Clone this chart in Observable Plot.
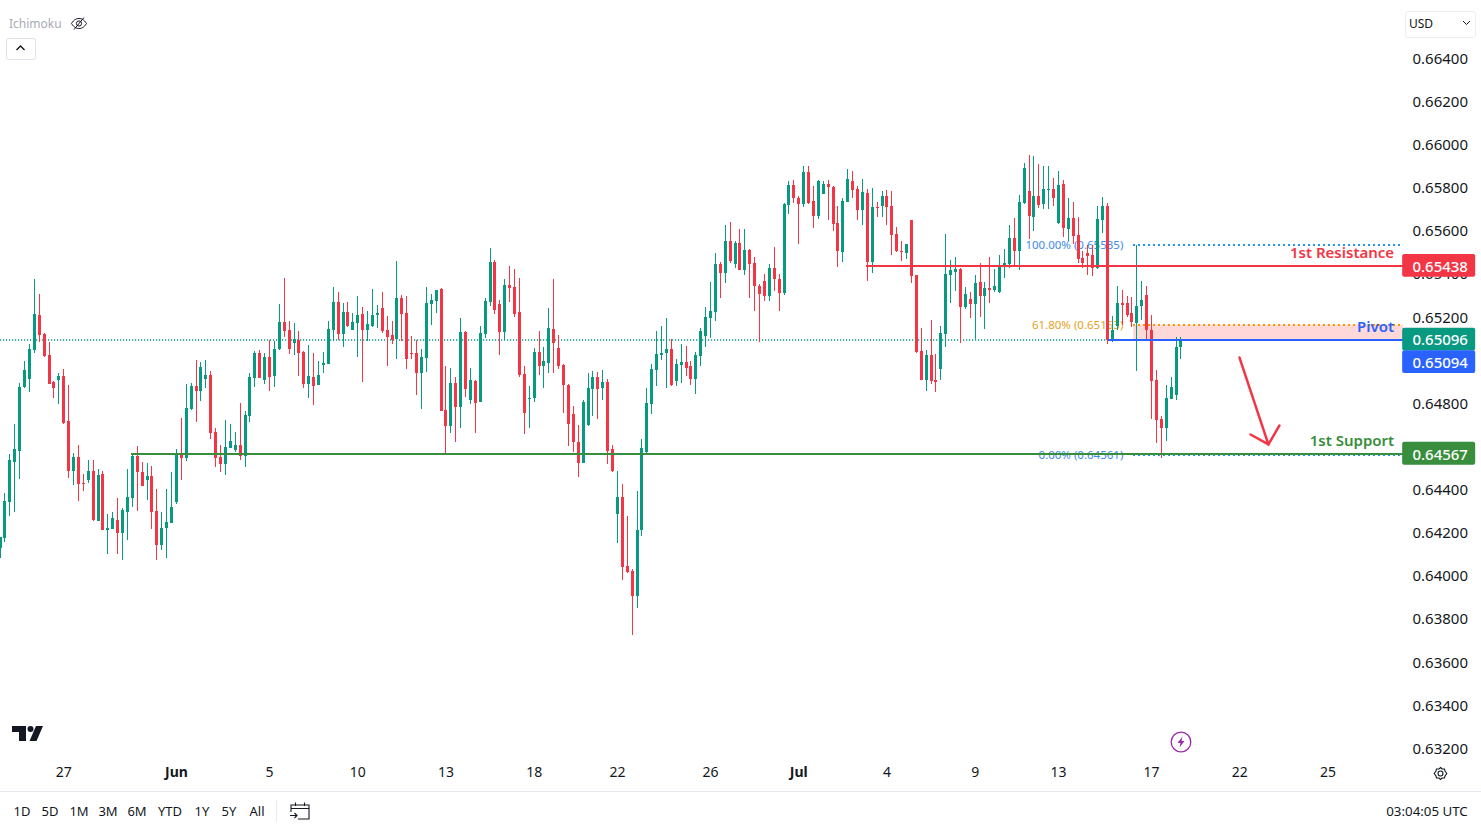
<!DOCTYPE html>
<html><head><meta charset="utf-8">
<script src="https://cdn.jsdelivr.net/npm/d3@7"></script>
<script src="https://cdn.jsdelivr.net/npm/@observablehq/plot@0.6"></script>
<style>
html,body{margin:0;padding:0;background:#fff;overflow:hidden;width:1481px;height:828px;font-family:"Noto Sans",sans-serif}
#wrap{position:relative;width:1481px;height:828px}
#chart svg{display:block}
.abs{position:absolute;white-space:nowrap}
.tf{position:absolute;top:811px;transform:translate(-50%,-50%);font-size:13px;color:#131722;white-space:nowrap}
</style></head><body>
<div id="wrap">
<div id="chart"></div>
<div class="abs" style="left:9px;top:15px;font-size:12px;color:#a8abb5">Ichimoku</div>
<svg class="abs" style="left:70px;top:15px" width="18" height="17" viewBox="0 0 18 17" fill="none" stroke="#131722" stroke-width="1"><path d="M1.5 8.5C4 4.5 6.5 3.5 9 3.5s5 1 7.5 5c-2.5 4-5 5-7.5 5s-5-1-7.5-5z"/><circle cx="9" cy="8.5" r="2.6"/><path d="M4 14.5L14 2.5"/></svg>
<div class="abs" style="left:6px;top:38px;width:28px;height:20px;border:1px solid #e0e3eb;border-radius:3px"></div>
<svg class="abs" style="left:15px;top:44px" width="11" height="8" fill="none" stroke="#131722" stroke-width="1.4"><path d="M1.5 6L5.5 2L9.5 6"/></svg>
<div class="abs" style="left:1405px;top:11px;width:69px;height:25px;border:1px solid #eceef2;border-radius:3px"></div>
<div class="abs" style="left:1409px;top:15px;font-size:12px;color:#131722">USD</div>
<svg class="abs" style="left:1462px;top:20px" width="9" height="6" fill="none" stroke="#131722" stroke-width="1"><path d="M1 1L4.500 4.500L8 1"/></svg>
<svg class="abs" style="left:12px;top:726px" width="31" height="15" fill="#131722"><path d="M0 0H14V15H7V6H0Z"/><circle cx="18.500" cy="3" r="3"/><path d="M24 0H31L24.500 15H17.500Z"/></svg>
<svg class="abs" style="left:1170px;top:731px" width="22" height="22" fill="none"><circle cx="11" cy="11" r="9.800" stroke="#9c27b0" stroke-width="1.300"/><path d="M12.500 5.500L7.500 12H10.500L9.500 16.500L14.500 10H11.500Z" fill="#9c27b0"/></svg>
<svg class="abs" style="left:1432px;top:765px" width="17" height="17" fill="none" stroke="#131722" stroke-width="1.100"><circle cx="8.500" cy="8.500" r="2.500"/><path d="M8.500 2.500L10 4L12.500 4L13 6L14.800 8.500L13 11L12.500 13L10 13L8.500 14.500L7 13L4.500 13L4 11L2.200 8.500L4 6L4.500 4L7 4Z"/></svg>
<div class="abs" style="left:0;top:791px;width:1481px;height:1px;background:#e8eaef"></div>
<div class="tf" style="left:22px">1D</div><div class="tf" style="left:50px">5D</div><div class="tf" style="left:79px">1M</div><div class="tf" style="left:108px">3M</div><div class="tf" style="left:137px">6M</div><div class="tf" style="left:170px">YTD</div><div class="tf" style="left:202px">1Y</div><div class="tf" style="left:229px">5Y</div><div class="tf" style="left:257px">All</div>
<div class="abs" style="left:276px;top:800px;width:1px;height:22px;background:#e8eaef"></div>
<svg class="abs" style="left:289px;top:801px" width="21" height="19" fill="none" stroke="#131722" stroke-width="1.100"><path d="M2 11V4H20V18H9M2 7.500H20M6.500 1.500V5M15.500 1.500V5M1 14.500H8M5.500 12L8 14.500L5.500 17"/></svg>
<div class="tf" style="left:1427px;font-size:13.3px">03:04:05 UTC</div>
</div>
<script>
const highs=[
64180,64384,64563,64704,64891,64995,65073,65375,65305,65123,
65083,64902,64939,64957,64883,64568,64605,64472,64535,64535,
64494,64484,64285,64294,64359,64313,64494,64568,64600,64526,
64521,64508,64401,64294,64401,64480,64586,64730,64888,64893,
64999,64990,64999,64948,64684,64605,64721,64702,64665,64800,
64763,64939,65041,65046,65032,65092,65087,65259,65380,65180,
65171,65134,65041,65069,65032,64995,65037,65180,65338,65315,
65264,65268,65217,65296,65245,65227,65329,65255,65315,65204,
65180,65459,65301,65296,65111,65092,65050,65338,65306,65324,
65333,64972,64962,64921,65194,65134,64962,64907,65157,65287,
65519,65463,65278,65375,65435,65421,65380,64972,64879,65055,
65134,65060,65241,65375,65115,64981,64888,64786,64698,64814,
64939,64948,64944,64953,64911,64605,64484,64424,64276,64030,
64392,64633,64869,64981,65134,65157,65194,65097,65004,65074,
65064,64995,65036,65148,65245,65361,65496,65454,65625,65639,
65551,65607,65607,65514,65477,65352,65398,65445,65523,65398,
65726,65829,65834,65760,65899,65899,65806,65834,65829,65834,
65806,65713,65750,65885,65876,65806,65838,65792,65797,65732,
65783,65787,65783,65616,65551,65537,65648,65393,65147,65045,
65185,65027,65157,65583,65463,65477,65426,65338,65314,65393,
65449,65361,65477,65421,65486,65514,65625,65658,65764,65913,
65950,65945,65908,65899,65899,65843,65876,65834,65750,65732,
65662,65505,65532,65532,65713,65755,65727,65203,65342,65324,
65296,65291,65532,65365,65342,65208,64953,64739,64883,64920,
65106,65106];
const bodyTops=[
64180,64345,64535,64586,64874,64953,65050,65213,65208,65120,
65022,64897,64925,64925,64716,64549,64549,64429,64484,64484,
64466,64470,64220,64266,64257,64303,64364,64554,64554,64480,
64461,64461,64299,64220,64248,64317,64563,64559,64777,64879,
64879,64967,64930,64930,64665,64549,64596,64624,64605,64605,
64744,64920,65032,65032,65013,65013,65050,65175,65175,65138,
65097,65092,65037,64925,64921,64930,64986,65143,65268,65268,
65222,65222,65176,65208,65213,65166,65208,65217,65241,65139,
65115,65287,65287,65217,65032,65032,65013,65264,65278,65324,
65329,64768,64893,64893,65129,65129,64907,64902,65125,65273,
65454,65454,65259,65347,65347,65338,65222,64935,64823,65037,
65037,64995,65148,65143,65055,64976,64883,64749,64619,64805,
64870,64921,64921,64897,64897,64587,64364,64364,64044,64021,
64211,64591,64800,64958,65027,65032,65050,65050,64981,64990,
64990,64971,65022,65134,65199,65227,65445,65445,65551,65551,
65542,65542,65509,65509,65449,65343,65366,65426,65426,65375,
65723,65811,65811,65750,65871,65871,65736,65829,65815,65815,
65801,65634,65736,65838,65829,65792,65778,65774,65709,65709,
65760,65760,65713,65583,65505,65537,65648,65393,65041,65022,
65022,64906,65124,65398,65416,65421,65421,65305,65282,65356,
65361,65333,65333,65342,65435,65449,65565,65565,65732,65890,
65783,65760,65760,65792,65792,65792,65811,65815,65658,65658,
65579,65472,65495,65486,65653,65713,65713,65138,65263,65263,
65263,65217,65249,65277,65300,65138,64906,64725,64823,64874,
65059,65096];
const bodyBottoms=[
64129,64175,64342,64528,64579,64876,64913,65047,65117,65018,
64889,64871,64906,64707,64486,64486,64426,64426,64443,64257,
64254,64212,64211,64215,64197,64197,64294,64359,64480,64415,
64443,64296,64141,64141,64220,64243,64341,64545,64545,64772,
64855,64855,64911,64661,64545,64517,64517,64591,64582,64556,
64556,64739,64916,64916,64906,64920,64925,65050,65134,65050,
65078,65032,64888,64888,64879,64883,64976,64981,65139,65120,
65120,65157,65139,65171,65139,65139,65157,65208,65134,65106,
65092,65097,65213,65004,65027,64939,64939,65009,65259,65273,
64763,64693,64693,64781,64781,64865,64814,64800,64805,65120,
65268,65231,65129,65129,65333,65213,64930,64754,64819,64823,
64972,64972,64986,65078,64972,64883,64703,64619,64522,64522,
64698,64865,64865,64869,64577,64484,64285,64039,64016,63905,
63905,64211,64573,64795,64953,65022,65032,64883,64902,64976,
64962,64911,64911,65018,65111,65194,65222,65403,65403,65458,
65445,65417,65417,65445,65343,65305,65296,65296,65375,65310,
65310,65718,65750,65723,65723,65727,65667,65667,65769,65801,
65630,65505,65500,65732,65787,65695,65695,65454,65454,65704,
65713,65709,65579,65505,65500,65495,65389,65036,64906,64906,
64902,64897,64957,65120,65393,65407,65245,65245,65259,65259,
65296,65296,65324,65324,65314,65430,65444,65505,65505,65727,
65667,65662,65718,65723,65787,65750,65634,65611,65607,65574,
65467,65449,65481,65426,65426,65648,65092,65087,65157,65254,
65208,65175,65171,65249,65138,64902,64721,64684,64684,64818,
64837,65059];
const lows=[
64082,64157,64277,64296,64449,64869,64852,65033,65084,65013,
64889,64825,64797,64704,64453,64421,64347,64393,64430,64252,
64254,64212,64101,64215,64101,64073,64166,64319,64300,64415,
64350,64217,64073,64120,64082,64243,64331,64443,64531,64767,
64712,64809,64869,64633,64503,64480,64466,64591,64573,64535,
64503,64712,64874,64916,64888,64855,64874,65046,65106,65027,
65022,64925,64870,64823,64791,64883,64939,64981,65088,65092,
65060,65152,65139,65013,64897,65088,65152,65148,65125,64972,
65074,65004,65088,64958,65004,64837,64772,64944,65162,65217,
64763,64559,64661,64619,64684,64828,64795,64661,64805,65101,
65250,65213,65023,65092,65268,65199,64921,64656,64684,64805,
64930,64870,64939,64939,64958,64754,64601,64573,64457,64522,
64693,64740,64726,64814,64517,64480,64151,63979,64011,63724,
63849,64183,64563,64749,64879,64999,64869,64879,64879,64893,
64925,64883,64842,64971,65060,65101,65180,65287,65356,65449,
65426,65417,65394,65287,65227,65083,65273,65273,65319,65227,
65300,65676,65727,65537,65709,65723,65611,65653,65769,65648,
65597,65430,65454,65732,65750,65648,65625,65365,65403,65662,
65662,65625,65486,65500,65458,65467,65356,65031,64906,64855,
64888,64851,64906,65059,65263,65319,65078,65236,65194,65096,
65198,65143,65263,65314,65310,65379,65426,65435,65418,65723,
65560,65597,65704,65699,65699,65713,65630,65569,65551,65537,
65449,65426,65393,65389,65421,65588,65073,65082,65138,65161,
65198,65152,64948,65185,65092,64724,64614,64543,64623,64818,
64813,65004];
const directions=
"UUUUUUUUDD"+"DDUDDUDDUD"+"UDUUDUUUDD"+"UDDUUUUDUU"+"DUUDDDUUUD"+"UUUDUDUUDD"+
"UDDUDUUUUD"+"UDUUDUUUDD"+"DUDDDDUUUU"+"DDUDUDUDUU"+"UDDUDDDDUU"+"DUUDDDDDDU"+
"UUDUDDUDDD"+"UUUUUUUDUU"+"DDUUUUUDUD"+"UDUDDDDUDD"+"UUDDUDDUUD"+"DDUUDDUDUD"+
"UDDDDUDDDU"+"DDUUUUDUDU"+"DUDUUUUDUU"+"DUDUUDUDUD"+"DDDDUUDUUD"+"DDUUDDDDUU"+"UU";

const priceTicks=[0.664,0.662,0.66,0.658,0.656,0.654,0.652,0.65,0.648,0.646,0.644,0.642,0.64,0.638,0.636,0.634,0.632];
const timeLabels=["27","Jun","5","10","13","18","22","26","Jul","4","9","13","17","22","25"];
const timeIndex=[13,36,55,73,91,109,126,145,163,181,199,216,235,253,271];

const resistance=0.65438, pivot=0.65094, support=0.64567, lastPrice=0.65096;
const fibHigh=0.65535, fibMid=0.65163, fibLow=0.64561;
const GREEN="#089981",RED="#F23645",BLUE="#2962FF",SUP="#388E3C",FIB="#2196F3",ORANGE="#FF9800",FIBTXT="#3D8BE8",ORGTXT="#E6A11F";
const PIP=1e-5;
const rows=highs.map((h,i)=>({i,high:h*PIP,low:lows[i]*PIP,top:bodyTops[i]*PIP,bottom:bodyBottoms[i]*PIP,up:directions[i]==="U"}));
const ups=rows.filter(d=>d.up), downs=rows.filter(d=>!d.up);

const xStart=0.082, xEnd=286.41, xFib=231.34, xRes=176.9, xSup=26.8, xPiv=226.3, xFibText=229.24, xLabel=284.5, xBadge1=286.24, xBadge2=301.14;
const crisp={shapeRendering:"crispEdges"};
const flat=(v,x1,stroke,w,extra={})=>Plot.ruleY([v],{x1,x2:xEnd,stroke,strokeWidth:w,...crisp,...extra});
const note=(x,y,text,fill,fontSize,extra={})=>Plot.text([0],{x:()=>x,y:()=>y,text:()=>text,fill,fontSize,textAnchor:"end",...extra});
const badge=(v,fill,dy=0)=>[
  Plot.rect([v],{x1:xBadge1,x2:xBadge2,y1:d=>d-0.00053,y2:d=>d+0.00053,fill,dy,rx:2}),
  Plot.text([v],{x:(xBadge1+xBadge2)/2,y:d=>d,text:d=>d.toFixed(5),fill:"#fff",fontSize:15,fontWeight:500,dy:dy+1,dx:1})
];
const arrowShaft=[{i:252.94,p:0.65013},{i:258.84,p:0.6461}];
const arrowHead=[{i:255.19,p:0.64656},{i:258.84,p:0.6461},{i:261.1,p:0.64698}];
const timeRows=timeLabels.map((t,k)=>({t,x:timeIndex[k]}));

const chart=Plot.plot({
  width:1481,height:791,marginLeft:0,marginRight:78,marginTop:0,marginBottom:27,
  style:{fontFamily:'"Noto Sans",sans-serif',background:"transparent",overflow:"visible"},
  x:{domain:[xStart,xEnd],axis:null},
  y:{domain:[0.631256,0.66669],axis:null},
  marks:[
    Plot.axisY({anchor:"right",ticks:priceTicks,tickFormat:d=>d.toFixed(5),tickSize:0,tickPadding:9,fontSize:15,label:null,color:"#131722",dy:0.5}),
    Plot.text(timeRows.filter(d=>!/[A-Z]/.test(d.t)),{x:"x",text:"t",frameAnchor:"bottom",lineAnchor:"middle",dy:8,fontSize:14,fill:"#131722"}),
    Plot.text(timeRows.filter(d=>/[A-Z]/.test(d.t)),{x:"x",text:"t",frameAnchor:"bottom",lineAnchor:"middle",dy:8,fontSize:14,fontWeight:700,fill:"#131722"}),
    Plot.rect([0],{x1:xFib,x2:xEnd,y1:pivot,y2:fibMid,fill:"#FFD9D9"}),
    Plot.ruleY([lastPrice],{x1:xStart,x2:xEnd,stroke:GREEN,strokeWidth:1.4,strokeDasharray:"1.2 1.8",dy:0.3}),
    note(xFibText,fibHigh,"100.00% (0.65535)",FIBTXT,11.5),
    note(xFibText,fibMid,"61.80% (0.65163)",ORGTXT,11.5),
    note(xFibText,fibLow,"0.00% (0.64561)",FIBTXT,11.5),
    Plot.ruleX(ups,{x:"i",y1:"low",y2:"high",stroke:GREEN,strokeWidth:1,...crisp}),
    Plot.ruleX(downs,{x:"i",y1:"low",y2:"high",stroke:RED,strokeWidth:1,...crisp}),
    Plot.ruleX(ups,{x:"i",y1:"bottom",y2:"top",stroke:GREEN,strokeWidth:3,...crisp}),
    Plot.ruleX(downs,{x:"i",y1:"bottom",y2:"top",stroke:RED,strokeWidth:3,...crisp}),
    flat(fibHigh,xFib,FIB,2,{strokeDasharray:"2 3"}),
    flat(fibMid,xFib,ORANGE,2,{strokeDasharray:"2 3"}),
    flat(fibLow,xFib,FIB,2,{strokeDasharray:"2 3"}),
    flat(support,xSup,SUP,2),
    flat(resistance,xRes,RED,2),
    flat(pivot,xPiv,BLUE,2),
    note(xLabel,0.65438,"1st Resistance",RED,15,{fontWeight:600,dy:-13}),
    note(xLabel,0.65163,"Pivot",BLUE,15,{fontWeight:600,dy:2}),
    note(xLabel,0.64567,"1st Support",SUP,15,{fontWeight:600,dy:-13}),
    Plot.line(arrowShaft,{x:"i",y:"p",stroke:RED,strokeWidth:2.5}),
    Plot.line(arrowHead,{x:"i",y:"p",stroke:RED,strokeWidth:2.5}),
    ...badge(resistance,RED),
    ...badge(lastPrice,GREEN),
    ...badge(pivot,BLUE,22),
    ...badge(support,SUP)
  ]
});
document.getElementById("chart").appendChild(chart);
</script>
</body></html>
